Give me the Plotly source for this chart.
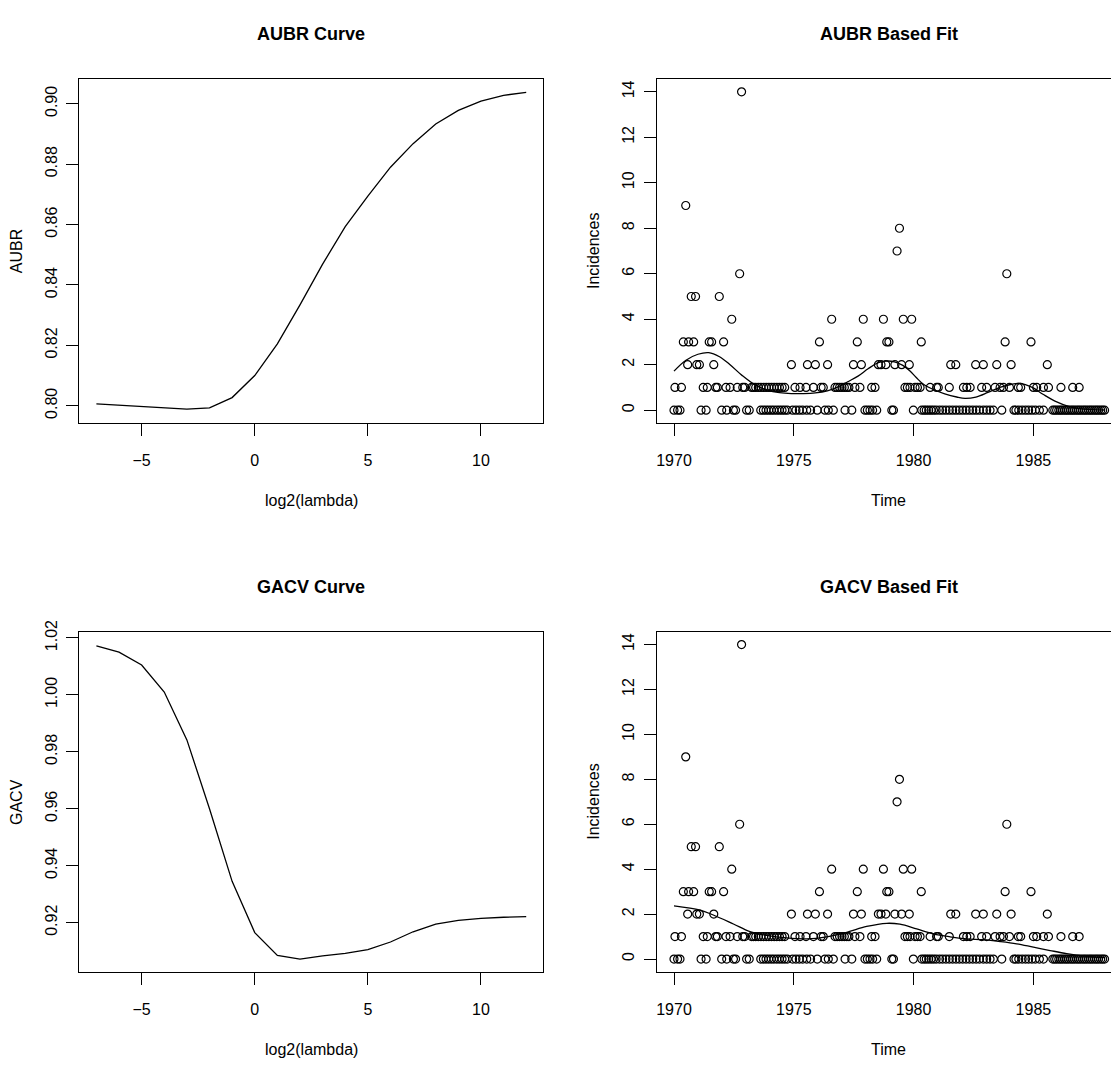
import plotly.graph_objects as go

# ---------------- data ----------------
log2_lambda = [-7, -6, -5, -4, -3, -2, -1, 0, 1, 2, 3, 4, 5, 6, 7, 8, 9, 10, 11, 12]
aubr = [0.8006, 0.8002, 0.7998, 0.7992, 0.7989, 0.7993, 0.8027, 0.8100, 0.8205, 0.8334,
        0.8469, 0.8593, 0.8694, 0.8790, 0.8868, 0.8933, 0.8978, 0.9009, 0.9028, 0.9038]
gacv = [1.0172, 1.0150, 1.0105, 1.0010, 0.9842, 0.9600, 0.9345, 0.9165, 0.9085, 0.9072,
        0.9083, 0.9092, 0.9105, 0.9132, 0.9168, 0.9195, 0.9208, 0.9215, 0.9219, 0.9221]

# observation times grouped by observed count
t_count0 = [1970.00, 1970.15, 1970.25, 1971.13, 1971.34, 1971.99, 1972.20, 1972.48, 1972.57,
            1973.03, 1973.14, 1973.62, 1973.73, 1973.84, 1973.95, 1974.06, 1974.17, 1974.29,
            1974.40, 1974.51, 1974.62, 1974.73, 1974.95, 1975.09, 1975.23, 1975.37, 1975.54,
            1975.70, 1975.98, 1976.30, 1976.44, 1976.65, 1977.14, 1977.42, 1977.97, 1978.07,
            1978.18, 1978.29, 1978.46, 1979.09, 1979.16, 1979.99, 1980.34, 1980.44, 1980.53,
            1980.63, 1980.73, 1980.83, 1980.94, 1981.08, 1981.21, 1981.35, 1981.49, 1981.63,
            1981.77, 1981.91, 1982.05, 1982.19, 1982.33, 1982.47, 1982.61, 1982.75, 1982.91,
            1983.05, 1983.19, 1983.33, 1983.68, 1984.19, 1984.27, 1984.39, 1984.53, 1984.67,
            1984.80, 1984.94, 1985.08, 1985.25, 1985.42, 1985.81, 1985.89, 1985.97, 1986.06,
            1986.14, 1986.22, 1986.31, 1986.39, 1986.47, 1986.56, 1986.64, 1986.72, 1986.81,
            1986.89, 1986.97, 1987.06, 1987.14, 1987.22, 1987.31, 1987.39, 1987.47, 1987.56,
            1987.64, 1987.72, 1987.81, 1987.89, 1987.97]
t_count1 = [1970.04, 1970.31, 1971.22, 1971.39, 1971.74, 1971.81, 1972.17, 1972.34, 1972.64,
            1972.87, 1972.95, 1973.24, 1973.32, 1973.41, 1973.52, 1973.63, 1973.74, 1973.85,
            1973.96, 1974.07, 1974.18, 1974.29, 1974.40, 1974.51, 1974.62, 1975.05, 1975.26,
            1975.51, 1975.82, 1976.14, 1976.23, 1976.72, 1976.81, 1976.91, 1977.01, 1977.11,
            1977.21, 1977.30, 1977.55, 1977.76, 1978.25, 1978.39, 1979.64, 1979.74, 1979.85,
            1980.06, 1980.16, 1980.27, 1980.69, 1980.96, 1981.03, 1981.49, 1982.08, 1982.22,
            1982.36, 1982.84, 1983.05, 1983.40, 1983.61, 1983.75, 1984.00, 1984.37, 1984.47,
            1985.00, 1985.14, 1985.42, 1985.63, 1986.15, 1986.64, 1986.91]
t_count2 = [1970.57, 1970.95, 1971.06, 1971.66, 1974.90, 1975.57, 1975.90, 1976.41, 1977.49,
            1977.82, 1978.53, 1978.64, 1978.84, 1979.22, 1979.50, 1979.82, 1981.55, 1981.76,
            1982.59, 1982.91, 1983.47, 1984.07, 1985.58]
t_count3 = [1970.39, 1970.61, 1970.82, 1971.47, 1971.57, 1972.07, 1976.07, 1977.65, 1978.88,
            1978.97, 1980.32, 1983.82, 1984.90]
t_count4 = [1972.41, 1976.58, 1977.90, 1978.74, 1979.57, 1979.92]
t_count5 = [1970.72, 1970.90, 1971.89]
t_count6 = [1972.74, 1983.89]
t_count7 = [1979.31]
t_count8 = [1979.41]
t_count9 = [1970.49]
t_count14 = [1972.82]

counts_by_value = {0: t_count0, 1: t_count1, 2: t_count2, 3: t_count3, 4: t_count4,
                   5: t_count5, 6: t_count6, 7: t_count7, 8: t_count8, 9: t_count9,
                   14: t_count14}

# fitted curves (time, fitted incidence)
aubr_fit_t = [1970.00, 1970.50, 1971.00, 1971.45, 1971.90, 1972.34, 1972.85, 1973.40, 1973.90,
              1974.40, 1974.90, 1975.40, 1975.90, 1976.40, 1976.80, 1977.25, 1977.68, 1978.10,
              1978.50, 1978.85, 1979.20, 1979.55, 1979.85, 1980.10, 1980.40, 1980.80, 1981.30,
              1981.80, 1982.15, 1982.60, 1983.10, 1983.60, 1984.05, 1984.45, 1984.95, 1985.40,
              1985.90, 1986.50, 1987.10, 1987.97]
aubr_fit_v = [1.72, 2.20, 2.46, 2.53, 2.35, 2.00, 1.52, 1.10, 0.88, 0.77, 0.73, 0.73, 0.76,
              0.85, 1.00, 1.25, 1.50, 1.82, 2.08, 2.16, 2.13, 1.97, 1.72, 1.45, 1.15, 0.92,
              0.72, 0.58, 0.52, 0.58, 0.78, 1.00, 1.13, 1.18, 1.00, 0.70, 0.40, 0.16, 0.05,
              0.01]
gacv_fit_t = [1970.00, 1971.09, 1971.64, 1972.48, 1973.17, 1973.87, 1974.70, 1975.54, 1976.37,
              1977.21, 1978.04, 1978.88, 1979.43, 1980.13, 1980.82, 1981.52, 1982.22, 1982.91,
              1983.61, 1984.30, 1985.00, 1985.70, 1986.39, 1987.09, 1987.97]
gacv_fit_v = [2.37, 2.18, 1.96, 1.56, 1.22, 1.05, 0.94, 0.90, 0.99, 1.19, 1.45, 1.59, 1.55,
              1.34, 1.12, 0.99, 0.90, 0.86, 0.78, 0.68, 0.53, 0.38, 0.24, 0.13, 0.06]

year_ticks = [1970, 1975, 1980, 1985]
count_ticks = [0, 2, 4, 6, 8, 10, 12, 14]
lambda_ticks = [-5, 0, 5, 10]
aubr_ticks = [0.80, 0.82, 0.84, 0.86, 0.88, 0.90]
gacv_ticks = [0.92, 0.94, 0.96, 0.98, 1.00, 1.02]

# ---------------- figure ----------------
W, H = 1111, 1071
FONT = "Liberation Sans Narrow, Liberation Sans, Arial, sans-serif"

obs_t, obs_y = [], []
for v, ts in counts_by_value.items():
    obs_t += ts
    obs_y += [v] * len(ts)

fig = go.Figure()

line_style = dict(color="black", width=1.3)
marker_style = dict(symbol="circle-open", size=8, color="black", line=dict(width=1.2, color="black"))

fig.add_trace(go.Scatter(x=log2_lambda, y=aubr, mode="lines", line=line_style, xaxis="x", yaxis="y"))
fig.add_trace(go.Scatter(x=obs_t, y=obs_y, mode="markers", marker=marker_style, xaxis="x2", yaxis="y2"))
fig.add_trace(go.Scatter(x=aubr_fit_t, y=aubr_fit_v, mode="lines", line=dict(color="black", width=1.3, shape="spline"), xaxis="x2", yaxis="y2"))
fig.add_trace(go.Scatter(x=log2_lambda, y=gacv, mode="lines", line=line_style, xaxis="x3", yaxis="y3"))
fig.add_trace(go.Scatter(x=obs_t, y=obs_y, mode="markers", marker=marker_style, xaxis="x4", yaxis="y4"))
fig.add_trace(go.Scatter(x=gacv_fit_t, y=gacv_fit_v, mode="lines", line=dict(color="black", width=1.3, shape="spline"), xaxis="x4", yaxis="y4"))

# pixel geometry
L_left, L_right = 79.2, 543.4
R_left = 656.7
top_row = (67.8, 415.6)
bot_row = (627.0, 970.5)

def xd(a, b):
    return [a / W, min(b / W, 1.0)]

def yd(top, bottom):
    return [1 - bottom / H, 1 - top / H]

tick_font = dict(family=FONT, size=16, color="black")
common_x = dict(showline=True, linecolor="black", linewidth=1.2, ticks="outside", ticklen=12,
                tickwidth=1.2, tickcolor="black", showgrid=False, zeroline=False,
                tickfont=tick_font, ticklabelstandoff=11)
common_y = dict(showline=True, linecolor="black", linewidth=1.2, ticks="outside", ticklen=12,
                tickwidth=1.2, tickcolor="black", showgrid=False, zeroline=False,
                tickfont=tick_font, tickangle=-90, ticklabelstandoff=3)

x_left_range = [-7.76, 12.76]
x_right_range = [1970 - (674 - R_left) / 23.96, 1970 + (W - 674) / 23.96]
y_count_range = [-0.56, 14.56]

fig.update_layout(
    width=W, height=H, margin=dict(l=0, r=0, t=0, b=0),
    paper_bgcolor="white", plot_bgcolor="white", showlegend=False,
    font=dict(family=FONT, color="black"),
    xaxis=dict(domain=xd(L_left, L_right), range=x_left_range, tickvals=lambda_ticks,
               mirror=True, anchor="y", **common_x),
    yaxis=dict(domain=yd(*top_row), range=[0.7943, 0.9082], tickvals=aubr_ticks,
               tickformat=".2f", mirror=True, anchor="x", **common_y),
    xaxis2=dict(domain=xd(R_left, W), range=x_right_range, tickvals=year_ticks,
                mirror=True, anchor="y2", **common_x),
    yaxis2=dict(domain=yd(*top_row), range=y_count_range, tickvals=count_ticks,
                mirror=False, anchor="x2", **common_y),
    xaxis3=dict(domain=xd(L_left, L_right), range=x_left_range, tickvals=lambda_ticks,
                mirror=True, anchor="y3", **common_x),
    yaxis3=dict(domain=yd(*bot_row), range=[0.9028, 1.0221], tickvals=gacv_ticks,
                tickformat=".2f", mirror=True, anchor="x3", **common_y),
    xaxis4=dict(domain=xd(R_left, W), range=x_right_range, tickvals=year_ticks,
                mirror=True, anchor="y4", **common_x),
    yaxis4=dict(domain=yd(*bot_row), range=y_count_range, tickvals=count_ticks,
                mirror=False, anchor="x4", **common_y),
)

def ann(text, px, py, size=16, bold=False, angle=0):
    fig.add_annotation(text=f"<b>{text}</b>" if bold else text, x=px / W, y=1 - py / H,
                       xref="paper", yref="paper", showarrow=False, textangle=angle,
                       xanchor="center", yanchor="middle",
                       font=dict(family=FONT, size=size, color="black"))

left_cx = (L_left + L_right) / 2
right_cx = 888.8
# titles
ann("AUBR Curve", left_cx, 22, size=18, bold=True)
ann("AUBR Based Fit", right_cx, 22, size=18, bold=True)
ann("GACV Curve", left_cx, 581.5, size=18, bold=True)
ann("GACV Based Fit", right_cx, 581.5, size=18, bold=True)
# x labels
ann("log2(lambda)", left_cx, 494)
ann("Time", right_cx, 494)
ann("log2(lambda)", left_cx, 1049)
ann("Time", right_cx, 1049)
# y labels
ann("AUBR", 17.2, sum(top_row) / 2, angle=-90)
ann("Incidences", 594.0, sum(top_row) / 2, angle=-90)
ann("GACV", 17.2, sum(bot_row) / 2, angle=-90)
ann("Incidences", 594.0, sum(bot_row) / 2, angle=-90)

fig.write_html("out.html",
               config={"displayModeBar": False},
               post_script="document.body.style.margin='0px';"
                           "document.documentElement.style.overflow='hidden';")
